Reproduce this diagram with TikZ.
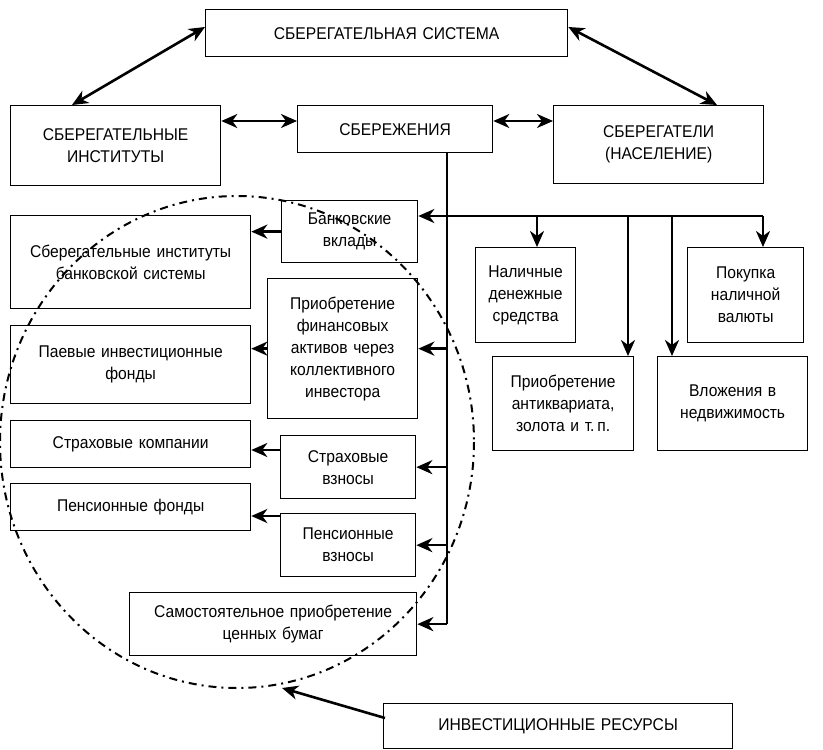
\documentclass[tikz,border=0pt]{standalone}
\usepackage{fontspec}
\setmainfont[FakeStretch=0.92]{Liberation Sans}
\usetikzlibrary{arrows.meta,calc}

\begin{document}
\begin{tikzpicture}[x=1pt,y=-1pt,>={Stealth[length=16pt,width=14pt,inset=5pt]},
  font=\fontsize{17}{22}\selectfont,
  blk/.style 2 args={draw, line width=1.3pt, anchor=north west, align=center, text width=#1, inner xsep=0pt, inner ysep=0pt, minimum height=#2},
  lnk/.style={line width=2.6pt},
  circ/.style={line width=2pt, dash pattern=on 8pt off 5pt on 2pt off 5pt}]
  \useasboundingbox (0,0) rectangle (823,750);
  % top level
  \node[blk={362pt}{47pt}] (sys) at (205,9) {СБЕРЕГАТЕЛЬНАЯ СИСТЕМА};
  \node[blk={210pt}{80pt}] (inst) at (10,105) {СБЕРЕГАТЕЛЬНЫЕ\\ИНСТИТУТЫ\par\vspace{14pt}};
  \node[blk={195pt}{47pt}] (sav) at (297,105) {СБЕРЕЖЕНИЯ};
  \node[blk={210pt}{78pt}] (pop) at (553,105) {СБЕРЕГАТЕЛИ\\(НАСЕЛЕНИЕ)\par\vspace{14pt}};
  % left column
  \node[blk={136pt}{62pt}] (bank) at (281,200) {Банковские\\вклады};
  \node[blk={240pt}{93pt}] (sbi) at (10,215) {Сберегательные институты\\банковской системы\par\vspace{26pt}};
  \node[blk={150pt}{140pt}] (acq) at (267,278) {Приобретение\\финансовых\\активов через\\коллективного\\инвестора};
  \node[blk={240pt}{78pt}] (pif) at (10,325) {Паевые инвестиционные\\фонды\par\vspace{12pt}};
  \node[blk={240pt}{47pt}] (insco) at (10,420) {Страховые компании};
  \node[blk={135pt}{63pt}] (insv) at (280,435) {Страховые\\взносы};
  \node[blk={240pt}{47pt}] (penf) at (10,483) {Пенсионные фонды};
  \node[blk={135pt}{63pt}] (penv) at (280,513) {Пенсионные\\взносы};
  \node[blk={287pt}{63pt}] (self) at (129,592) {Самостоятельное приобретение\\ценных бумаг};
  % right column
  \node[blk={100pt}{95pt}] (cash) at (475,247) {Наличные\\денежные\\средства};
  \node[blk={116pt}{95pt}] (curr) at (687,247) {Покупка\\наличной\\валюты};
  \node[blk={141pt}{94pt}] (antq) at (492,356) {Приобретение\\антиквариата,\\золота и т.\,п.};
  \node[blk={150pt}{94pt}] (real) at (657,356) {Вложения в\\недвижимость\par\vspace{22pt}};
  % bottom
  \node[blk={349pt}{45pt}] (invr) at (383,703) {ИНВЕСТИЦИОННЫЕ РЕСУРСЫ};
  % circle
  \draw[circ] (237,442) ellipse [x radius=237, y radius=246];
  % coordinates
  \coordinate (s1) at ($(sav.north west)+(0,16)$);
  \coordinate (s2) at ($(sav.north east)+(0,16)$);
  \coordinate (tk) at (447,216);
  \coordinate (d1) at (537,216);
  \coordinate (d2) at (628,216);
  \coordinate (d3) at (672,216);
  \coordinate (d4) at (763,216);
  \coordinate (c3) at ($(insv.north west)+(0,15)$);
  \coordinate (c4) at ($(penv.north west)+(0,3)$);
  \coordinate (e1) at (282,688);
  % Edges
  \draw[lnk,<->] ($(sys.north west)+(0,18)$) -- ($(inst.north west)+(62,0)$);
  \draw[lnk,<->] ($(sys.north east)+(0,18)$) -- ($(pop.north west)+(164,0)$);
  \draw[lnk,<->] (s1 -| inst.east) -- (s1);
  \draw[lnk,<->] (s2) -- (s2 -| pop.west);
  \draw[line width=1.5pt] (sav.south -| tk) -- (self.east -| tk);
  \draw[lnk,->] (tk) -- (tk -| bank.east);
  \draw[line width=1.8pt] (tk) -- (d4);
  \foreach \d/\b in {d1/cash, d2/antq, d3/real, d4/curr}
    \draw[lnk,->] (\d) -- (\d |- \b.north);
  \foreach \b in {acq, insv, penv, self}
    \draw[lnk,->] (\b.east -| tk) -- (\b.east);
  \draw[lnk,->] (bank.west) -- (bank.west -| sbi.east);
  \draw[lnk,->] (acq.west) -- (acq.west -| pif.east);
  \draw[lnk,->] (c3) -- (c3 -| insco.east);
  \draw[lnk,->] (c4) -- (c4 -| penf.east);
  \draw[lnk,->] ($(invr.north west)+(2,15)$) -- (e1);
\end{tikzpicture}
\end{document}
